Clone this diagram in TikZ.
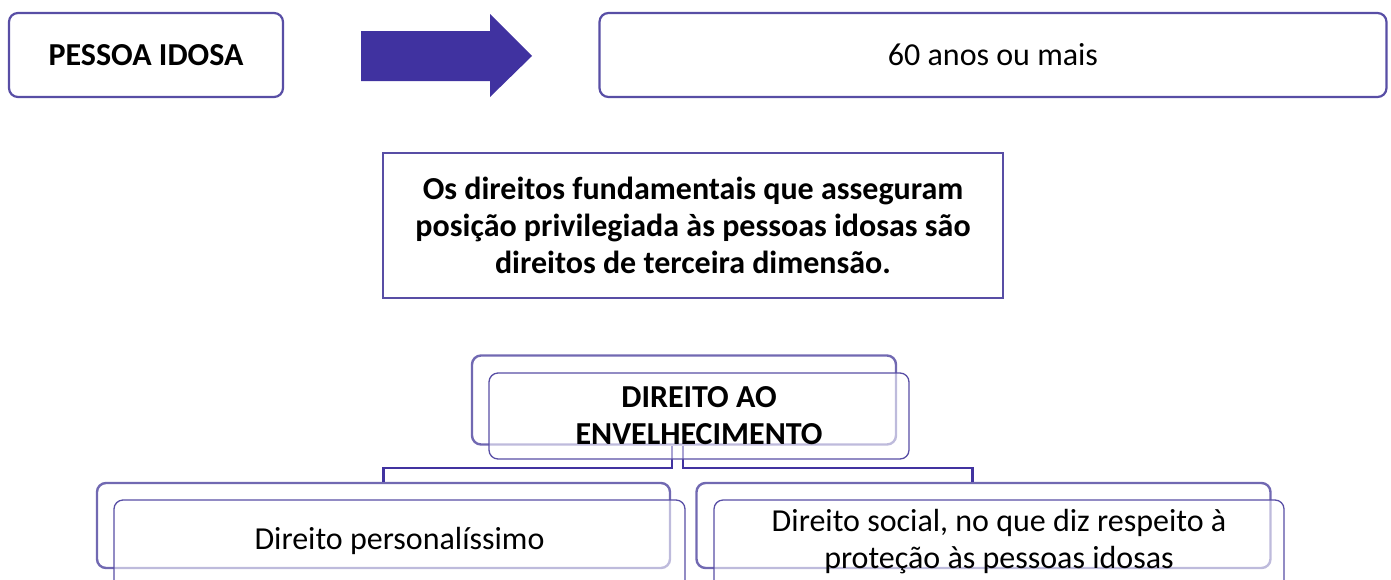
\documentclass[tikz,border=0pt]{standalone}
\usepackage{fontspec}
\setmainfont{Carlito}
\definecolor{boxc}{RGB}{88,78,165}
\definecolor{linec}{RGB}{65,51,160}
\definecolor{arrc}{RGB}{64,50,160}
\tikzset{
  txt/.style={font=\fontsize{32}{37}\selectfont, align=center, text=black},
  bigbox/.style={draw=boxc, line width=2.2pt, rounded corners=9pt, inner sep=0pt, txt},
  backbox/.style={draw=boxc!85!white, line width=2.4pt, rounded corners=9pt, inner sep=0pt},
  frontbox/.style={draw=boxc, line width=1.3pt, rounded corners=9pt, fill=white, fill opacity=0.55, text opacity=1, inner sep=0pt, txt},
  conn/.style={draw=linec, line width=2.4pt},
}
\begin{document}
\begin{tikzpicture}[x=1pt,y=-1pt]
\useasboundingbox (0,0) rectangle (1391,579);
\clip (0,0) rectangle (1391,579);
% top row
\node[bigbox, minimum width=274pt, minimum height=84pt] (pi) at (146,55) {\bfseries PESSOA IDOSA};
\node[bigbox, minimum width=787pt, minimum height=84pt] (sixty) at (993,55) {60 anos ou mais};
\fill[arrc] (361,31) -- (490,31) -- (490,14) -- (532,56) -- (490,97) -- (490,81) -- (361,81) -- cycle;
% middle statement
\node[draw=boxc, line width=2.2pt, inner sep=0pt, minimum width=620pt, minimum height=145pt, txt] (stmt) at (693,225.5)
  {\bfseries Os direitos fundamentais que asseguram\\ \bfseries posição privilegiada às pessoas idosas são\\ \bfseries direitos de terceira dimensão.};
% hierarchy
\node[backbox, minimum width=424pt, minimum height=89pt] (envB) at (684,400) {};
\node[backbox, minimum width=573pt, minimum height=85pt] (lB) at (383.5,525.5) {};
\node[backbox, minimum width=574pt, minimum height=85pt] (rB) at (983.5,525.5) {};
\draw[conn] ([xshift=-12pt]envB.south) -- ++(0,22) -| (lB.north);
\draw[conn] ([xshift=-1pt]envB.south) -- ++(0,22) -| ([xshift=-11pt]rB.north);
\node[frontbox, minimum width=420pt, minimum height=86pt] (envF) at (699,416) {\bfseries DIREITO AO\\ \bfseries ENVELHECIMENTO};
\node[frontbox, minimum width=571pt, minimum height=90pt, yshift=0pt] (lF) at (399.5,545) {};
\node[txt] (lT) at (399.5,541) {Direito personalíssimo};
\node[frontbox, minimum width=570pt, minimum height=90pt] (rF) at (999,545) {};
\node[txt] (rT) at (999,542) {Direito social, no que diz respeito à\\ proteção às pessoas idosas};
\end{tikzpicture}
\end{document}
